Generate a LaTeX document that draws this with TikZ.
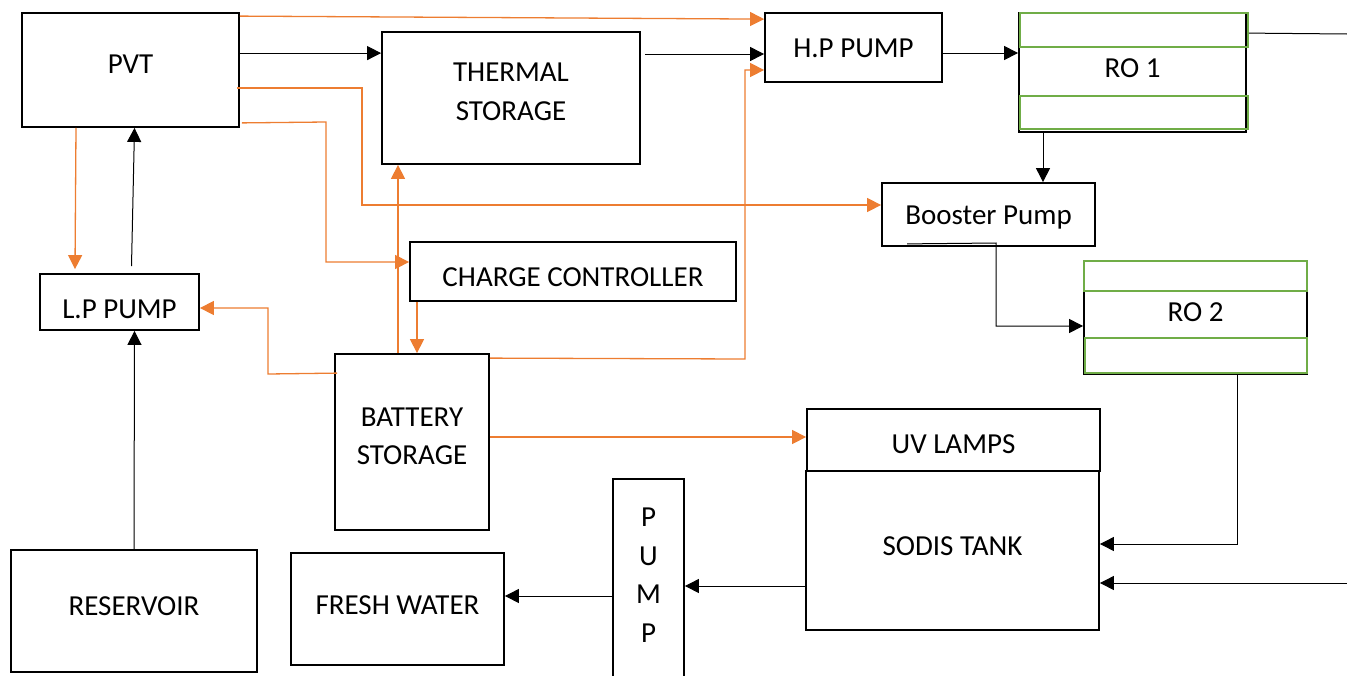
\documentclass[tikz,border=0pt]{standalone}
\usepackage{fontspec}
\setmainfont{Carlito}
\usetikzlibrary{arrows.meta}
\definecolor{orng}{HTML}{ED7D31}
\definecolor{grn}{HTML}{70AD47}
\begin{document}
\begin{tikzpicture}[x=1pt,y=-1pt,
  box/.style={draw, line width=1.8pt, inner sep=0pt, rectangle},
  txt/.style={font=\fontsize{29}{38.5}\selectfont, align=center, inner sep=0pt},
  oline/.style={draw=orng, line width=1.3pt},
  oarrow/.style={oline, -{Triangle[length=14pt,width=14pt]}},
  bline/.style={draw=black, line width=1pt},
  barrow/.style={bline, -{Triangle[length=14pt,width=14pt]}},
  gstrip/.style={draw=grn, line width=1.8pt}]
\useasboundingbox (0,0) rectangle (1347,675);
\clip (0,0) rectangle (1347,675);
% boxes
\node[box, minimum width=217pt, minimum height=114pt, label={[txt,yshift=5.5pt]center:PVT}] (pvt) at (130.5,70) {};
\node[box, minimum width=258pt, minimum height=132pt, label={[txt,yshift=6pt]center:THERMAL\\STORAGE}] (thermal) at (511,98) {};
\node[box, minimum width=177pt, minimum height=69pt, label={[txt,yshift=-0.5pt]center:H.P PUMP}] (hp) at (853.5,47.5) {};
\node[box, minimum width=227pt, minimum height=119pt, label={[txt,yshift=4.5pt]center:RO 1}] (ro1) at (1132.5,72.5) {};
\node[box, minimum width=213pt, minimum height=63pt, label={[txt,yshift=-3.5pt]center:Booster Pump}] (booster) at (988.5,214.5) {};
\node[box, minimum width=326pt, minimum height=59pt, label={[txt,yshift=-5.5pt]center:CHARGE CONTROLLER}] (charge) at (573,271.5) {};
\node[box, minimum width=159pt, minimum height=56pt, label={[txt,yshift=-7pt]center:L.P PUMP}] (lp) at (119.5,302) {};
\node[box, minimum width=223pt, minimum height=113pt, label={[txt,yshift=5.5pt]center:RO 2}] (ro2) at (1195.5,317.5) {};
\node[box, minimum width=154pt, minimum height=176pt, label={[txt,yshift=5.5pt]center:BATTERY\\STORAGE}] (battery) at (412,442) {};
\node[box, minimum width=293pt, minimum height=62pt, label={[txt,yshift=-4pt]center:UV LAMPS}] (uv) at (953.5,440) {};
\node[box, minimum width=293pt, minimum height=159pt, label={[txt,yshift=4.5pt]center:SODIS TANK}] (sodis) at (952.5,550.5) {};
\node[box, minimum width=246pt, minimum height=122pt, label={[txt,yshift=5pt]center:RESERVOIR}] (reservoir) at (134,611) {};
\node[box, minimum width=213pt, minimum height=112pt, label={[txt,yshift=4pt]center:FRESH WATER}] (fresh) at (397.5,609) {};
\node[box, minimum width=71pt, minimum height=240pt, label={[txt,yshift=24pt]center:P\\U\\M\\P}] (pump) at (648.5,599) {};
% green membrane strips
\draw[gstrip] ([xshift=2pt,yshift=-1pt]ro1.north west) rectangle ([xshift=1pt,yshift=-35pt]ro1.north east);
\draw[gstrip] ([xshift=2pt,yshift=37pt]ro1.south west) rectangle ([xshift=1pt,yshift=4pt]ro1.south east);
\draw[gstrip] ([xshift=1pt,yshift=-1pt]ro2.north west) rectangle ([xshift=-1pt,yshift=-31pt]ro2.north east);
\draw[gstrip] ([xshift=2pt,yshift=37pt]ro2.south west) rectangle ([xshift=-1pt,yshift=2pt]ro2.south east);
% free ends at the right edge
\coordinate (e1) at (1347,34);
\coordinate (e2) at (1347,583);
% orange (electrical) connectors
\draw[oarrow] ([yshift=-4pt]pvt.north east) -- ([yshift=-7pt]hp.north west);
\draw[oarrow] ([xshift=-3pt,yshift=-18pt]pvt.east) -- (362,88) -- (362,205) -- ([yshift=9.5pt]booster.west);
\draw[oarrow] ([xshift=2pt,yshift=5pt]pvt.south east) -- (326,122) -- (326,262) -- ([yshift=9.5pt]charge.west);
\draw[oarrow] ([xshift=-14pt]battery.north) -- ([xshift=-113pt]thermal.south);
\draw[oarrow] ([xshift=-156pt]charge.south) -- ([xshift=5pt]battery.north);
\draw[oarrow] ([xshift=3pt,yshift=-20pt]battery.north west) -- (268,374) -- (268,308) -- ([yshift=-6pt]lp.east);
\draw[oarrow] ([yshift=-5pt]battery.north east) -- (745,359) -- (745,70) -- ([yshift=-22.5pt]hp.west);
\draw[oarrow] ([yshift=5pt]battery.east) -- ([yshift=3pt]uv.west);
\draw[oarrow] ([xshift=-54.5pt]pvt.south) -- ([xshift=-44.5pt,yshift=4pt]lp.north);
% black (water) connectors
\draw[barrow] ([yshift=-41pt]pvt.north east) -- ([yshift=-22pt]thermal.north west);
\draw[barrow] ([xshift=4pt,yshift=44pt]thermal.east) -- ([yshift=-6.5pt]hp.west);
\draw[barrow] ([yshift=-5.5pt]hp.east) -- ([yshift=19.5pt]ro1.west);
\draw[bline] ([xshift=2pt,yshift=-21pt]ro1.north east) -- (e1);
\draw[barrow] ([xshift=-89.5pt]ro1.south) -- ([xshift=54.5pt]booster.north);
\draw[barrow] ([xshift=26pt,yshift=3pt]booster.south west) -- (996,243) -- (996,326) -- ([yshift=-8.5pt]ro2.west);
\draw[barrow] ([xshift=42pt]ro2.south) -- (1237.5,544) -- ([yshift=6.5pt]sodis.east);
\draw[barrow] (e2) -- ([yshift=-32.5pt]sodis.east);
\draw[barrow] ([yshift=-35.5pt]sodis.west) -- ([yshift=13pt]pump.east);
\draw[barrow] ([yshift=3pt]pump.west) -- ([yshift=13pt]fresh.east);
\draw[barrow] (reservoir.north) -- ([xshift=15pt]lp.south);
\draw[barrow] ([xshift=12pt,yshift=7pt]lp.north) -- ([xshift=4pt]pvt.south);
\end{tikzpicture}
\end{document}
